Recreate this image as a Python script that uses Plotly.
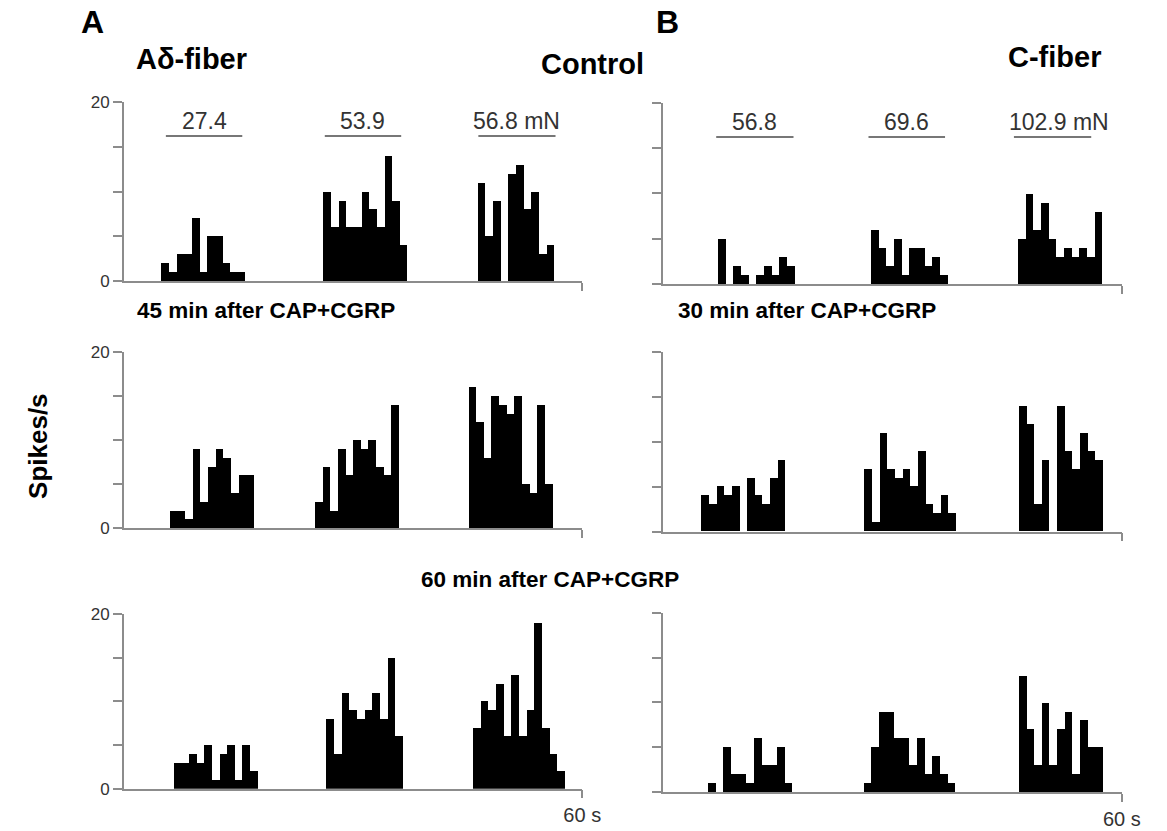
import plotly.graph_objects as go

W, H = 1167, 831

# Peri-stimulus time histograms: 1-s bins, firing rate in spikes/s.
# Each burst is listed from its first bin; onsets are in seconds.

# Column A: Aδ-fiber
A_CONTROL_ONSETS = [4.9, 26.1, 46.3]
A_CONTROL = [
    [2, 1, 3, 3, 7, 1, 5, 5, 2, 1, 1],
    [10, 6, 9, 6, 6, 10, 8, 6, 14, 9, 4],
    [11, 5, 9, 0, 12, 13, 8, 10, 3, 4],
]
A_45MIN_ONSETS = [6.0, 25.0, 45.1]
A_45MIN = [
    [2, 2, 1, 9, 3, 7, 9, 8, 4, 6, 6],
    [3, 7, 2, 9, 6, 10, 9, 10, 7, 6, 14],
    [16, 12, 8, 15, 14, 13, 15, 5, 4, 14, 5],
]
A_60MIN_ONSETS = [6.5, 26.5, 45.7]
A_60MIN = [
    [3, 3, 4, 3, 5, 1, 4, 5, 1, 5, 2],
    [8, 4, 11, 9, 8, 9, 11, 8, 15, 6],
    [7, 10, 9, 12, 6, 13, 6, 9, 19, 7, 4, 2],
]

# Column B: C-fiber
B_CONTROL_ONSETS = [7.2, 27.2, 46.4]
B_CONTROL = [
    [5, 0, 2, 1, 0, 1, 2, 1, 3, 2],
    [6, 4, 2, 5, 1, 4, 4, 2, 3, 1],
    [5, 10, 6, 9, 5, 3, 4, 3, 4, 3, 8],
]
B_30MIN_ONSETS = [5.0, 26.3, 46.5]
B_30MIN = [
    [4, 3, 5, 4, 5, 0, 6, 4, 3, 6, 8],
    [7, 1, 11, 7, 6, 7, 5, 9, 3, 2, 4, 2],
    [14, 12, 3, 8, 0, 14, 9, 7, 11, 9, 8],
]
B_60MIN_ONSETS = [5.9, 26.2, 46.5]
B_60MIN = [
    [1, 0, 5, 2, 2, 1, 6, 3, 3, 5, 1],
    [1, 5, 9, 9, 6, 6, 3, 6, 2, 4, 2, 1],
    [13, 7, 3, 10, 3, 7, 9, 2, 8, 5, 5],
]

# Mechanical stimulus windows (s) and forces, marked above the control rows
A_STIM_WINDOWS = [(5.5, 15.5), (26.3, 36.3), (46.4, 56.5)]
A_FORCES = ["27.4", "53.9", "56.8 mN"]
B_STIM_WINDOWS = [(7.0, 17.1), (26.9, 36.9), (45.9, 56.0)]
B_FORCES = ["56.8", "69.6", "102.9 mN"]

X_MAX = 60
Y_MAX = 20
Y_TICKS = [0, 5, 10, 15, 20]

FONT = "Liberation Sans, Arial, sans-serif"
AXIS_GREY = "#8c8c8c"


def px(x):
    return x / W


def py(y):
    return 1 - y / H


# panel frames in pixels: (left, right), (bottom, top)
# order: A-control, B-control, A-45, B-30, A-60, B-60
panels = [
    (A_CONTROL_ONSETS, A_CONTROL, (125.9, 591.9), (278.5, 95.2), "A", 0),
    (B_CONTROL_ONSETS, B_CONTROL, (673.6, 1140.4), (281.6, 95.8), "B", 0),
    (A_45MIN_ONSETS, A_45MIN, (125.9, 591.9), (531.1, 350.8), "A", 1),
    (B_30MIN_ONSETS, B_30MIN, (673.6, 1140.4), (534.9, 351.4), "B", 1),
    (A_60MIN_ONSETS, A_60MIN, (125.9, 591.9), (797.9, 619.0), "A", 2),
    (B_60MIN_ONSETS, B_60MIN, (673.6, 1140.4), (801.3, 618.0), "B", 2),
]

fig = go.Figure()
layout = dict(
    width=W, height=H, autosize=False,
    margin=dict(l=0, r=0, t=0, b=0, pad=0),
    paper_bgcolor="white", plot_bgcolor="white",
    showlegend=False,
    font=dict(family=FONT, color="#222"),
    barmode="overlay", bargap=0, bargroupgap=0,
)
shapes = []
annotations = []

for k, (onsets, bursts, (x0, x1), (yb, yt), col, row) in enumerate(panels):
    n = k + 1
    xa = "x" if n == 1 else f"x{n}"
    ya = "y" if n == 1 else f"y{n}"
    for onset, counts in zip(onsets, bursts):
        # empty bins are simply left blank
        xs = [onset + i + 0.5 for i, c in enumerate(counts) if c > 0]
        ys = [c for c in counts if c > 0]
        fig.add_trace(go.Bar(
            x=xs, y=ys, width=[1.0] * len(xs),
            marker=dict(color="black", line=dict(width=0)),
            xaxis=xa, yaxis=ya, hoverinfo="skip",
        ))
    bottom_row = row == 2
    layout["xaxis" if n == 1 else f"xaxis{n}"] = dict(
        domain=[px(x0), px(x1)], anchor=ya, range=[0, X_MAX],
        showline=True, linecolor=AXIS_GREY, linewidth=1.5,
        showgrid=False, zeroline=False,
        tickmode="array", tickvals=[X_MAX],
        ticktext=["60 s"] if bottom_row else [""],
        ticks="outside", ticklen=8, tickwidth=1.5, tickcolor=AXIS_GREY,
        showticklabels=bottom_row,
        tickfont=dict(size=20, color="#333", family=FONT),
        fixedrange=True,
    )
    layout["yaxis" if n == 1 else f"yaxis{n}"] = dict(
        domain=[py(yb), py(yt)], anchor=xa, range=[0, Y_MAX],
        showline=True, linecolor=AXIS_GREY, linewidth=1.5,
        showgrid=False, zeroline=False,
        tickmode="array", tickvals=Y_TICKS,
        ticktext=["0", "", "", "", "20"] if col == "A" else [""] * 5,
        ticks="outside", ticklen=9, tickwidth=1.5, tickcolor=AXIS_GREY,
        showticklabels=(col == "A"),
        tickfont=dict(size=17, color="#333", family=FONT),
        fixedrange=True,
    )
    if row == 0:
        windows = A_STIM_WINDOWS if col == "A" else B_STIM_WINDOWS
        forces = A_FORCES if col == "A" else B_FORCES
        for (s0, s1), label in zip(windows, forces):
            shapes.append(dict(
                type="line", xref=xa, yref=ya, x0=s0, x1=s1, y0=16.2, y1=16.2,
                line=dict(color="#777", width=2),
            ))
            annotations.append(dict(
                xref=xa, yref=ya, x=(s0 + s1) / 2, y=17.9,
                xshift=6 if label.endswith("mN") and col == "B" else 0,
                text=label, showarrow=False, xanchor="center", yanchor="middle",
                font=dict(size=23, color="#333", family=FONT),
            ))

# panel letters, row titles and the shared y label
titles = [
    ("<b>A</b>", 94.4, 13.7, 32),
    ("<b>B</b>", 678.2, 13.7, 32),
    ("<b>Aδ-fiber</b>", 194.9, 51.5, 29),
    ("<b>Control</b>", 602.0, 56.6, 29),
    ("<b>C-fiber</b>", 1072.0, 49.5, 29),
    ("<b>45 min after CAP+CGRP</b>", 270.0, 308.2, 22.5),
    ("<b>30 min after CAP+CGRP</b>", 820.3, 308.2, 22.5),
    ("<b>60 min after CAP+CGRP</b>", 559.4, 584.2, 22.5),
]
for text, x, y, size in titles:
    annotations.append(dict(
        xref="paper", yref="paper", x=px(x), y=py(y), text=text,
        showarrow=False, xanchor="center", yanchor="middle",
        font=dict(size=size, color="black", family=FONT),
    ))
annotations.append(dict(
    xref="paper", yref="paper", x=px(38.6), y=py(447.2), text="<b>Spikes/s</b>",
    showarrow=False, xanchor="center", yanchor="middle", textangle=-90,
    font=dict(size=26, color="black", family=FONT),
))

layout["shapes"] = shapes
layout["annotations"] = annotations
fig.update_layout(**layout)
fig.write_html("out.html", config={"displayModeBar": False})
